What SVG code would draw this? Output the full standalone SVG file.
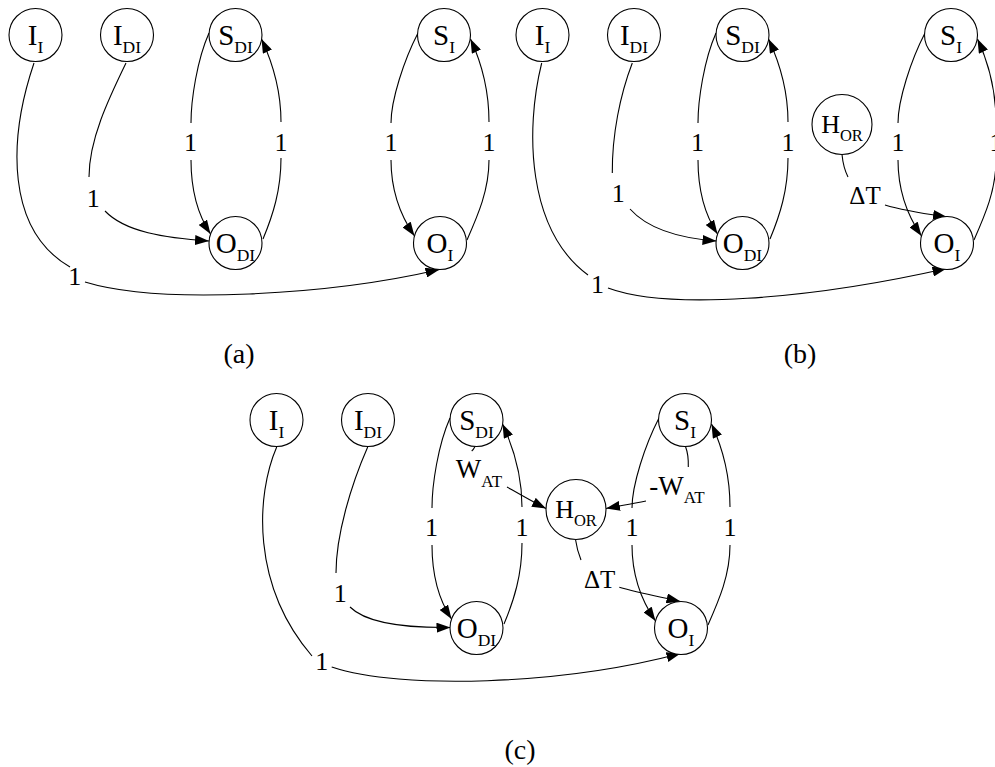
<svg xmlns="http://www.w3.org/2000/svg" width="995" height="767" viewBox="0 0 995 767">
  <style>
    text { font-family: "Liberation Serif", "Times New Roman", serif; fill: #000; }
    .node circle { fill: #fff; stroke: #000; stroke-width: 1.1; }
    .nl { font-size: 29px; text-anchor: middle; }
    .nh { font-size: 26px; text-anchor: middle; }
    .sub { font-size: 17.5px; }
    .subh { font-size: 16.5px; }
    .edges path { fill: none; stroke: #000; stroke-width: 1.1; }
    .el { font-size: 26px; text-anchor: middle; }
    .dl { font-size: 25px; text-anchor: middle; }
    .wl { font-size: 27px; text-anchor: middle; }
    .subw { font-size: 17px; }
    .cap { font-size: 28px; text-anchor: middle; }
  </style>
  <defs>
    <marker id="arrow" markerUnits="userSpaceOnUse" markerWidth="14" markerHeight="10" refX="14" refY="5" orient="auto">
      <path d="M0,0 L14,5 L0,10 z" fill="#000"/>
    </marker>
  </defs>

  <!-- ===== Panel (a) ===== -->
  <g id="panel-a">
    <g id="a-connectors" class="edges">
      <!-- S_DI -> O_DI -->
      <path d="M209,33 C197,60 191,100 191,123"/>
      <path d="M191,160 C191,190 198,215 210.5,234" marker-end="url(#arrow)"/>
      <text class="el" x="190.5" y="151">1</text>
      <!-- O_DI -> S_DI -->
      <path d="M263,239 C273,215 281,190 281,158"/>
      <path d="M281,122 C281,95 276,70 261.5,39" marker-end="url(#arrow)"/>
      <text class="el" x="281" y="151">1</text>
      <!-- S_I -> O_I -->
      <path d="M418,33 C404,60 391,100 391,123"/>
      <path d="M391,160 C391,190 400,215 414.5,236" marker-end="url(#arrow)"/>
      <text class="el" x="391" y="151">1</text>
      <!-- O_I -> S_I -->
      <path d="M467,240 C478,215 489,190 489,160"/>
      <path d="M489,122 C489,95 484,68 470.5,39" marker-end="url(#arrow)"/>
      <text class="el" x="489" y="151">1</text>
      <!-- I_DI -> O_DI -->
      <path d="M126,63 C108,100 89,140 89,177"/>
      <path d="M105,211 C125,232 165,238 209,241" marker-end="url(#arrow)"/>
      <text class="el" x="93.3" y="206.7">1</text>
      <!-- I_I -> O_I -->
      <path d="M34,63 C8,140 6,230 70,267"/>
      <path d="M85,282 C160,305 330,295 439.5,269.5" marker-end="url(#arrow)"/>
      <text class="el" x="74.7" y="285">1</text>
    </g>
    <g id="a-I_I" class="node"><circle cx="35.5" cy="35" r="26.5"/><text class="nl" x="35.5" y="45">I<tspan class="sub" dy="8">I</tspan></text></g>
    <g id="a-I_DI" class="node"><circle cx="127" cy="35" r="26.5"/><text class="nl" x="127" y="45">I<tspan class="sub" dy="8">DI</tspan></text></g>
    <g id="a-S_DI" class="node"><circle cx="235.5" cy="35" r="26.5"/><text class="nl" x="235.5" y="45">S<tspan class="sub" dy="8">DI</tspan></text></g>
    <g id="a-S_I" class="node"><circle cx="444" cy="35" r="26.5"/><text class="nl" x="444" y="45">S<tspan class="sub" dy="8">I</tspan></text></g>
    <g id="a-O_DI" class="node"><circle cx="235.5" cy="243" r="26.5"/><text class="nl" x="235.5" y="253">O<tspan class="sub" dy="8">DI</tspan></text></g>
    <g id="a-O_I" class="node"><circle cx="440" cy="243" r="26.5"/><text class="nl" x="440" y="253">O<tspan class="sub" dy="8">I</tspan></text></g>
    <text class="cap" x="239" y="363">(a)</text>
  </g>

  <!-- ===== Panel (b) ===== -->
  <g id="panel-b" transform="translate(507,0)">
    <g id="b-connectors" class="edges">
      <path d="M209,33 C197,60 191,100 191,123"/>
      <path d="M191,160 C191,190 198,215 210.5,234" marker-end="url(#arrow)"/>
      <text class="el" x="190.5" y="151">1</text>
      <path d="M263,239 C273,215 281,190 281,158"/>
      <path d="M281,122 C281,95 276,70 261.5,39" marker-end="url(#arrow)"/>
      <text class="el" x="281" y="151">1</text>
      <path d="M418,33 C404,60 391,100 391,123"/>
      <path d="M391,160 C391,190 400,215 414.5,236" marker-end="url(#arrow)"/>
      <text class="el" x="391" y="151">1</text>
      <path d="M467,240 C478,215 489,190 489,160"/>
      <path d="M489,122 C489,95 484,68 470.5,39" marker-end="url(#arrow)"/>
      <text class="el" x="489" y="151">1</text>
      <path d="M125.3,63 C113,95 105,135 105.3,173"/>
      <path d="M123,209 C140,228 170,238 209.5,241" marker-end="url(#arrow)"/>
      <text class="el" x="111.3" y="201.7">1</text>
      <path d="M34.7,63 C18,130 20,230 81,275"/>
      <path d="M101,288 C160,310 300,300 439.5,268.5" marker-end="url(#arrow)"/>
      <text class="el" x="90.5" y="293.3">1</text>
      <!-- H_OR -> O_I -->
      <path d="M335,154.5 C336,165 338,171 341,177"/>
      <path d="M378,205 C398,211 420,214 440,217" marker-end="url(#arrow)"/>
      <text class="dl" x="358" y="204">ΔT</text>
    </g>
    <g id="b-I_I" class="node"><circle cx="35.5" cy="35" r="26.5"/><text class="nl" x="35.5" y="45">I<tspan class="sub" dy="8">I</tspan></text></g>
    <g id="b-I_DI" class="node"><circle cx="127" cy="35" r="26.5"/><text class="nl" x="127" y="45">I<tspan class="sub" dy="8">DI</tspan></text></g>
    <g id="b-S_DI" class="node"><circle cx="235.5" cy="35" r="26.5"/><text class="nl" x="235.5" y="45">S<tspan class="sub" dy="8">DI</tspan></text></g>
    <g id="b-S_I" class="node"><circle cx="444" cy="35" r="26.5"/><text class="nl" x="444" y="45">S<tspan class="sub" dy="8">I</tspan></text></g>
    <g id="b-O_DI" class="node"><circle cx="235.5" cy="243" r="26.5"/><text class="nl" x="235.5" y="253">O<tspan class="sub" dy="8">DI</tspan></text></g>
    <g id="b-O_I" class="node"><circle cx="440" cy="243" r="26.5"/><text class="nl" x="440" y="253">O<tspan class="sub" dy="8">I</tspan></text></g>
    <g id="b-H_OR" class="node"><circle cx="335" cy="124.5" r="30"/><text class="nh" x="335" y="133">H<tspan class="subh" dy="8">OR</tspan></text></g>
    <text class="cap" x="293" y="363">(b)</text>
  </g>

  <!-- ===== Panel (c) ===== -->
  <g id="panel-c" transform="translate(241,385)">
    <g id="c-connectors" class="edges">
      <path d="M209,33 C197,60 191,100 191,123"/>
      <path d="M191,160 C191,190 198,215 210.5,234" marker-end="url(#arrow)"/>
      <text class="el" x="190.5" y="151">1</text>
      <path d="M263,239 C273,215 281,190 281,158"/>
      <path d="M281,122 C281,95 276,70 261.5,39" marker-end="url(#arrow)"/>
      <text class="el" x="281" y="151">1</text>
      <path d="M418,33 C404,60 391,100 391,123"/>
      <path d="M391,160 C391,190 400,215 414.5,236" marker-end="url(#arrow)"/>
      <text class="el" x="391" y="151">1</text>
      <path d="M467,240 C478,215 489,190 489,160"/>
      <path d="M489,122 C489,95 484,68 470.5,39" marker-end="url(#arrow)"/>
      <text class="el" x="489" y="151">1</text>
      <path d="M126.7,62 C110,100 95,150 95,188"/>
      <path d="M109,222 C125,238 165,243 209.5,242.5" marker-end="url(#arrow)"/>
      <text class="el" x="99.3" y="216.7">1</text>
      <path d="M35.7,62 C15,110 10,200 71,271"/>
      <path d="M90.7,282 C160,305 320,300 439.5,268.5" marker-end="url(#arrow)"/>
      <text class="el" x="80.7" y="285">1</text>
      <!-- H_OR -> O_I -->
      <path d="M334.5,154.5 C336,165 338,170 340,175"/>
      <path d="M378.3,202.3 C398,208 420,212 439.5,216.5" marker-end="url(#arrow)"/>
      <text class="dl" x="358.7" y="203">ΔT</text>
      <!-- S_DI -> H_OR -->
      <path d="M234,61.5 C233,63.5 232,65 230.7,66"/>
      <path d="M266,102 C280,110 292,117 305,123.5" marker-end="url(#arrow)"/>
      <text class="wl" x="238" y="93.3">W<tspan class="subw" dy="8.4">AT</tspan></text>
      <!-- S_I -> H_OR -->
      <path d="M444.5,61.5 C447,68 447.5,75 447.3,82"/>
      <path d="M405,116 C390,119 378,121 365,123.5" marker-end="url(#arrow)"/>
      <text class="wl" x="436" y="110">-W<tspan class="subw" dy="7.7">AT</tspan></text>
    </g>
    <g id="c-I_I" class="node"><circle cx="35.5" cy="35" r="26.5"/><text class="nl" x="35.5" y="45">I<tspan class="sub" dy="8">I</tspan></text></g>
    <g id="c-I_DI" class="node"><circle cx="127" cy="35" r="26.5"/><text class="nl" x="127" y="45">I<tspan class="sub" dy="8">DI</tspan></text></g>
    <g id="c-S_DI" class="node"><circle cx="235.5" cy="35" r="26.5"/><text class="nl" x="235.5" y="45">S<tspan class="sub" dy="8">DI</tspan></text></g>
    <g id="c-S_I" class="node"><circle cx="444" cy="35" r="26.5"/><text class="nl" x="444" y="45">S<tspan class="sub" dy="8">I</tspan></text></g>
    <g id="c-O_DI" class="node"><circle cx="235.5" cy="243" r="26.5"/><text class="nl" x="235.5" y="253">O<tspan class="sub" dy="8">DI</tspan></text></g>
    <g id="c-O_I" class="node"><circle cx="440" cy="243" r="26.5"/><text class="nl" x="440" y="253">O<tspan class="sub" dy="8">I</tspan></text></g>
    <g id="c-H_OR" class="node"><circle cx="335" cy="124.5" r="30"/><text class="nh" x="335" y="133">H<tspan class="subh" dy="8">OR</tspan></text></g>
    <text class="cap" x="279" y="374">(c)</text>
  </g>
</svg>
